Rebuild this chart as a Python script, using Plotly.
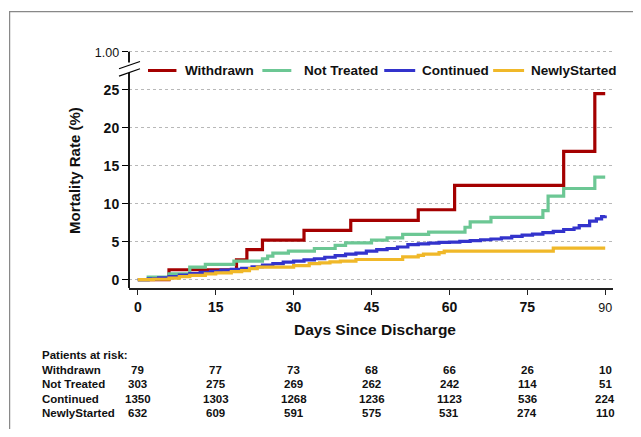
import plotly.graph_objects as go

# ---------------- data ----------------
withdrawn_days = [0, 6, 19, 21, 24, 32, 41, 54, 61, 82, 88, 90]
withdrawn_vals = [0, 1.3, 2.6, 3.95, 5.2, 6.5, 7.8, 9.2, 12.4, 16.9, 24.5, 24.5]

nottreated_days = [0, 2, 6, 10, 13, 18.5, 24, 25, 26, 29, 34, 38, 40, 45, 48, 51, 56, 63, 64, 68, 78, 79, 82, 88, 90]
nottreated_vals = [0, 0.33, 0.75, 1.65, 2.0, 2.45, 2.75, 3.1, 3.5, 3.76, 4.1, 4.5, 4.85, 5.2, 5.5, 5.95, 6.25, 6.9, 7.6, 8.2, 9.1, 11.0, 12.0, 13.5, 13.5]

continued_days = [0, 2, 4, 6, 8, 10, 12, 14, 16, 18, 20, 22, 24, 26, 28, 30, 32, 34, 36, 38, 40, 42, 44, 46, 48, 50, 52,
                  54, 56, 58, 60, 62, 64, 66, 68, 70, 72, 74, 76, 78, 80, 82, 84, 85, 87, 88.3, 89.3, 90]
continued_vals = [0, 0.1, 0.25, 0.4, 0.6, 0.8, 0.95, 1.1, 1.25, 1.35, 1.5, 1.7, 1.9, 2.1, 2.3, 2.45, 2.6, 2.75, 2.95, 3.15, 3.35,
                  3.5, 3.75, 3.95, 4.1, 4.3, 4.6, 4.7, 4.8, 4.9, 4.95, 5.05, 5.15, 5.25, 5.35, 5.5, 5.7, 5.85, 6.0, 6.2, 6.35,
                  6.6, 6.8, 7.1, 7.7, 8.0, 8.3, 8.45]

newly_days = [0, 3, 6, 8, 10, 13, 15, 18, 20, 21.5, 23, 30, 33, 35, 37, 39, 42, 51, 54, 55, 58, 59, 80, 90]
newly_vals = [0, 0.05, 0.2, 0.4, 0.55, 0.75, 0.9, 1.05, 1.2, 1.45, 1.65, 1.85, 2.1, 2.2, 2.35, 2.45, 2.65, 3.0, 3.2, 3.35,
              3.55, 3.75, 4.15, 4.15]

series_names = ["Withdrawn", "Not Treated", "Continued", "NewlyStarted"]
series_colors = ["#A40000", "#6CC794", "#3333CC", "#F0B829"]

x_tick_vals = [0, 15, 30, 45, 60, 75, 90]
x_tick_text = ["<b>0</b>", "<b>15</b>", "<b>30</b>", "<b>45</b>", "<b>60</b>", "<b>75</b>",
               "<span style='font-size:12.5px'>90</span>"]
y_tick_vals = [0, 5, 10, 15, 20, 25, 30]
y_tick_text = ["<b>0</b>", "<b>5</b>", "<b>10</b>", "<b>15</b>", "<b>20</b>", "<b>25</b>",
               "<span style='font-size:12.5px'>1.00</span>"]

risk_title = "Patients at risk:"
risk_rows = {
    "Withdrawn": [79, 77, 73, 68, 66, 26, 10],
    "Not Treated": [303, 275, 269, 262, 242, 114, 51],
    "Continued": [1350, 1303, 1268, 1236, 1123, 536, 224],
    "NewlyStarted": [632, 609, 591, 575, 531, 274, 110],
}

# ---------------- layout geometry ----------------
# the page body has an 8px margin, so figure pixel = page pixel - 8
OFF = 8
W_FIG, H_FIG = 641 - OFF, 437 - 2 * OFF
L, R, T, B = 128.5 - OFF, 613.0 - OFF, 47.5 - OFF, 287.7 - OFF
XR = [-1.7, 91.5]
YR = [-1.1, 30.5]
PW, PH = R - L, B - T

def fx(px):
    return (px - OFF - L) / PW

def fy(py):
    return (B - (py - OFF)) / PH

def yv(v):
    return (v - YR[0]) / (YR[1] - YR[0])

FONT = "Liberation Sans, Arial, Helvetica, sans-serif"

fig = go.Figure()
all_days = [withdrawn_days, nottreated_days, continued_days, newly_days]
all_vals = [withdrawn_vals, nottreated_vals, continued_vals, newly_vals]
for name, col, d, v in zip(series_names, series_colors, all_days, all_vals):
    fig.add_trace(go.Scatter(x=d, y=v, mode="lines", name=name,
                             line=dict(color=col, width=3.2, shape="hv"),
                             showlegend=False))

shapes = []
annotations = []

# frame
shapes.append(dict(type="rect", xref="paper", yref="paper",
                   x0=fx(9), x1=fx(700), y0=fy(11), y1=fy(500),
                   line=dict(color="#888888", width=1.2), fillcolor="rgba(0,0,0,0)"))

# y axis line with break
shapes.append(dict(type="line", xref="paper", yref="paper", x0=0, x1=0,
                   y0=yv(30), y1=yv(28.6), line=dict(color="black", width=1.8)))
shapes.append(dict(type="line", xref="paper", yref="paper", x0=0, x1=0,
                   y0=yv(27.2), y1=0, line=dict(color="black", width=1.8)))
# break slashes
shapes.append(dict(type="line", xref="paper", yref="paper", x0=fx(118.5), x1=fx(139.5),
                   y0=fy(68.3), y1=fy(61.0), line=dict(color="black", width=1.2)))
shapes.append(dict(type="line", xref="paper", yref="paper", x0=fx(118.5), x1=fx(139.5),
                   y0=fy(75.7), y1=fy(68.3), line=dict(color="black", width=1.2)))

# legend (manual)
leg_y = fy(70)
leg_items = [(147.5, 176, 183), (262, 291, 302), (384, 415, 420), (493, 524, 529)]
for (x0, x1, xt), name, col in zip(leg_items, series_names, series_colors):
    shapes.append(dict(type="line", xref="paper", yref="paper", x0=fx(x0), x1=fx(x1),
                       y0=leg_y, y1=leg_y, line=dict(color=col, width=3)))
    annotations.append(dict(xref="paper", yref="paper", x=fx(xt), y=leg_y, text="<b>%s</b>" % name,
                            showarrow=False, xanchor="left", yanchor="middle",
                            font=dict(family=FONT, size=13.5, color="#111111")))

# axis titles
annotations.append(dict(xref="paper", yref="paper", x=fx(74), y=fy(170), text="<b>Mortality Rate (%)</b>",
                        textangle=-90, showarrow=False, xanchor="center", yanchor="middle",
                        font=dict(family=FONT, size=15, color="#111111")))
annotations.append(dict(xref="paper", yref="paper", x=fx(375), y=fy(329), text="<b>Days Since Discharge</b>",
                        showarrow=False, xanchor="center", yanchor="middle",
                        font=dict(family=FONT, size=15.5, color="#111111")))

# risk table
annotations.append(dict(xref="paper", yref="paper", x=fx(39), y=fy(355), text="<b>%s</b>" % risk_title,
                        showarrow=False, xanchor="left", yanchor="middle",
                        font=dict(family=FONT, size=11.5, color="#111111")))
row_y = [369.3, 383.8, 398.3, 412.8]
for (label, vals), py in zip(risk_rows.items(), row_y):
    annotations.append(dict(xref="paper", yref="paper", x=fx(39), y=fy(py), text="<b>%s</b>" % label,
                            showarrow=False, xanchor="left", yanchor="middle",
                            font=dict(family=FONT, size=11.5, color="#111111")))
    for xv, n in zip(x_tick_vals, vals):
        annotations.append(dict(xref="x", yref="paper", x=xv, y=fy(py), text="<b>%d</b>" % n,
                                showarrow=False, xanchor="center", yanchor="middle",
                                font=dict(family=FONT, size=11.5, color="#111111")))

fig.update_layout(
    width=W_FIG, height=H_FIG,
    margin=dict(l=L, r=W_FIG - R, t=T, b=H_FIG - B, pad=0),
    paper_bgcolor="white", plot_bgcolor="white",
    font=dict(family=FONT, color="#111111"),
    shapes=shapes, annotations=annotations,
    xaxis=dict(range=XR, tickvals=x_tick_vals, ticktext=x_tick_text,
               showline=True, linecolor="#222222", linewidth=1.5,
               ticks="outside", ticklen=5, tickwidth=1, tickcolor="#222222",
               showgrid=False, zeroline=False,
               tickfont=dict(family=FONT, size=14, color="#111111")),
    yaxis=dict(range=YR, tickvals=y_tick_vals, ticktext=y_tick_text,
               showline=False, ticks="outside", ticklen=6, tickwidth=1.2, tickcolor="black",
               showgrid=True, gridcolor="#B8B8B8", griddash="dot", gridwidth=1,
               zeroline=False,
               tickfont=dict(family=FONT, size=14, color="#111111")),
)

fig.write_html("out.html")
